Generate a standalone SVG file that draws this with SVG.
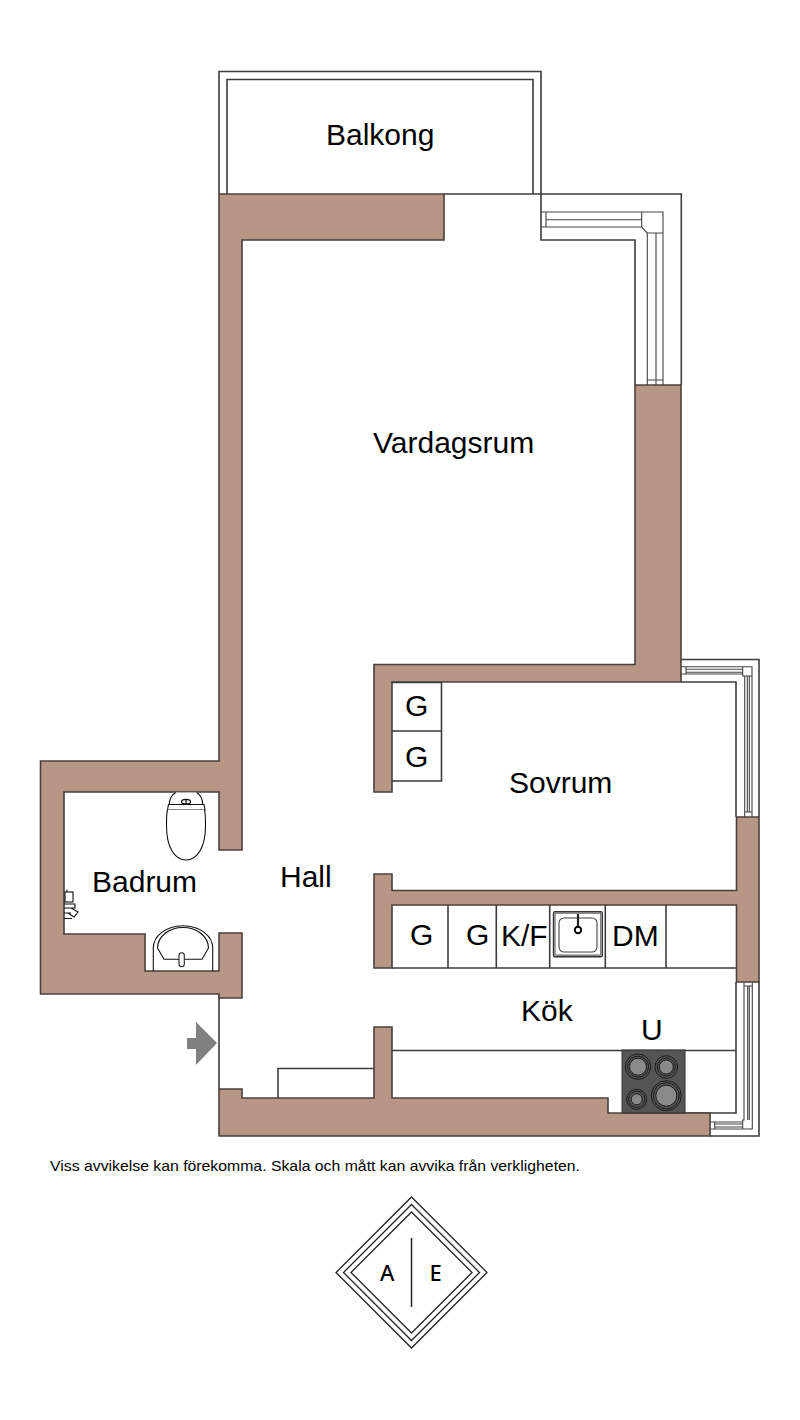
<svg xmlns="http://www.w3.org/2000/svg" width="800" height="1420" viewBox="0 0 800 1420">
<style>
.w{fill:#b89685;stroke:#4a403b;stroke-width:1.6;stroke-linejoin:miter}
.l{fill:none;stroke:#3c3c3c;stroke-width:1.6}
.t{fill:none;stroke:#444;stroke-width:1.1}
.k{fill:none;stroke:#111;stroke-width:1.1}
.f{fill:#fff;stroke:#111;stroke-width:1.1}
text{font-family:"Liberation Sans",Arial,sans-serif;fill:#000;font-size:30px}
.b{fill:#8a8a8a;stroke:#1c1c1c;stroke-width:1}
.r{fill:none;stroke:#1c1c1c;stroke-width:1}
</style>
<rect width="800" height="1420" fill="#fff"/>
<g id="balcony">
<path class="l" d="M219 194V71.500H541V194"/>
<path class="l" d="M227 194V79.500H533V194"/>
<path class="l" d="M444 194H681.300V385"/>
</g>
<g id="inner-lines">
<path class="l" d="M541 194V240H635V385"/>
<path class="l" d="M681 682H736V817"/>
<path class="l" d="M681 659.500H759V817"/>
<path class="l" d="M759 982V1136H710"/>
<path class="l" d="M736 982V1113H685"/>
<path class="l" d="M219 994V1089" stroke="#666"/>
<path class="l" d="M278 1098V1068.500H374"/>
<path class="l" d="M392 1050.500H736"/>
</g>
<g id="window-north">
<path class="t" d="M541 212H663V385M541 227H641.700L647.300 233V385M546 212V227M546 219.700H641.700M641.700 212V227M647.300 233H663M656 233V385M647.300 380H663"/>
</g>
<g id="window-east-upper">
<path class="t" d="M681 666.700H752V817M681 674H742.700V676M686 666.700V674M686 669.300H742.700M686 672.300H742.700M742.700 666.700V676H752M744.700 676V817M747.300 676V812M749.300 676V812M744.700 812H752"/>
</g>
<g id="window-east-lower">
<path class="t" d="M744 982V1120H742.700V1129H752.300V982M744 986H752.300M747.700 986V1120M749.300 986V1120M710 1122H742.700M710 1129H742.700M714.700 1122V1129M714.700 1124H742.700M714.700 1127H742.700"/>
</g>
<g id="walls">
<path class="w" d="M219 194H444V240H242V850H219V792H64V934H145V971H219V933H242V998H219V994H40.500V761H219Z"/>
<path class="w" d="M635 385H681V682H392V792H374V664.500H635Z"/>
<path class="w" d="M374 874H392V890.500H736.500V817H759V982H736.500V905H392V968H374Z"/>
<path class="w" d="M219 1089H242V1098H374V1027H392V1098H608V1113H710V1136H219Z"/>
</g>
<g id="closets">
<path class="l" d="M392 682.500H441.500V781H392M392 731H441.500"/>
</g>
<g id="kitchen-counter">
<path class="l" d="M392 968H736M448 905V968M496.300 905V968M549.700 905V968M605.300 905V968M666 905V968"/>
</g>
<g id="sink">
<rect x="553.500" y="911.700" width="48.800" height="45" rx="1.500" fill="#fff" stroke="#333" stroke-width="1.400"/>
<rect x="555" y="913.200" width="45.800" height="42" rx="1" fill="none" stroke="#666" stroke-width="1.200"/>
<rect x="559" y="918" width="38" height="34" rx="5" fill="none" stroke="#444" stroke-width="1.100"/>
<path d="M578 914V928" stroke="#222" stroke-width="2.200" fill="none"/>
<circle cx="578" cy="930" r="3.200" fill="none" stroke="#000" stroke-width="1.900"/>
</g>
<g id="cooktop">
<rect x="622" y="1050" width="63" height="63" fill="#555" stroke="#333" stroke-width="1"/>
<circle class="r" cx="638" cy="1066.700" r="12.700"/><circle class="r" cx="638" cy="1066.700" r="10.500"/><circle class="b" cx="638" cy="1066.700" r="8.500"/>
<circle class="r" cx="666.300" cy="1067" r="11.300"/><circle class="r" cx="666.300" cy="1067" r="9"/><circle class="b" cx="666.300" cy="1067" r="7"/>
<circle class="r" cx="636.700" cy="1099.300" r="10"/><circle class="r" cx="636.700" cy="1099.300" r="8"/><circle class="b" cx="636.700" cy="1099.300" r="5.500"/>
<circle class="r" cx="666.300" cy="1095.700" r="15"/><circle class="r" cx="666.300" cy="1095.700" r="13"/><circle class="b" cx="666.300" cy="1095.700" r="10.500"/>
</g>
<g id="toilet">
<path class="f" d="M175.700 792.500C171.500 795 169.300 799 169.300 804.500H202.700C202.700 799 200.500 795 196.700 792.500"/>
<path class="f" d="M168.500 804.500H204L205 810H167.500Z"/>
<path class="f" d="M167.500 810C166.800 812 166.500 818 166.500 826C166.500 846 174 860 186 860C198 860 205.500 846 205.500 826C205.500 818 205.200 812 204.500 810"/>
<ellipse cx="186" cy="801.700" rx="4.500" ry="2.300" fill="#fff" stroke="#111" stroke-width="1.300"/>
<path d="M186 799.500V804" stroke="#111" stroke-width="1.300"/>
</g>
<g id="basin">
<path class="k" d="M153.300 971V948C153.300 936 166 925.700 183 925.700C200 925.700 212.700 936 212.700 948V971"/>
<path class="k" d="M157.500 948C158 936 169 927.500 183 927.500C197 927.500 208 936 208.500 948"/>
<path class="k" d="M157.500 948L164 959.300H202L208.500 948"/>
<rect x="179" y="952.700" width="5.300" height="14" rx="2.600" fill="#fff" stroke="#222" stroke-width="1.100"/>
</g>
<g id="shower-mixer">
<rect x="65" y="892" width="8" height="10" class="f" stroke-width="1.300"/>
<path class="k" d="M67 892V889.500M64 904H75V908H64M64 908H71L78 912L74 917L68 913M64 913H71M64 918.500H72" stroke-width="1.500"/>
</g>
<g id="entrance-arrow">
<path d="M187 1038H196V1022L217 1043L196 1065V1049H187Z" fill="#808080"/>
</g>
<g id="labels">
<text x="326" y="145">Balkong</text>
<text x="373" y="453">Vardagsrum</text>
<text x="509" y="793">Sovrum</text>
<text x="92" y="892">Badrum</text>
<text x="280" y="887">Hall</text>
<text x="521" y="1021">Kök</text>
<text x="641" y="1040">U</text>
<text x="405" y="716">G</text>
<text x="405" y="767">G</text>
<text x="410" y="945">G</text>
<text x="466" y="945">G</text>
<text x="501" y="946">K/F</text>
<text x="612" y="946">DM</text>
<text x="50" y="1171" style="font-size:14.400px" textLength="530" lengthAdjust="spacingAndGlyphs">Viss avvikelse kan förekomma. Skala och mått kan avvika från verkligheten.</text>
</g>
<g id="logo">
<path d="M411.500 1197L487 1272.500L411.500 1348L336 1272.500Z" fill="none" stroke="#222" stroke-width="1.300"/>
<path d="M411.500 1204.500L479.500 1272.500L411.500 1340.500L343.500 1272.500Z" fill="none" stroke="#222" stroke-width="1.300"/>
<path d="M411.500 1212L472 1272.500L411.500 1333L351 1272.500Z" fill="none" stroke="#222" stroke-width="1.300"/>
<path d="M411.500 1238V1307" stroke="#222" stroke-width="1.500"/>
<text x="380" y="1280.500" style="font-family:'Noto Sans',sans-serif;font-size:22px;font-weight:500">A</text>
<text x="429.500" y="1280.500" style="font-family:'Noto Sans',sans-serif;font-size:22px;font-weight:500">E</text>
</g>
</svg>
